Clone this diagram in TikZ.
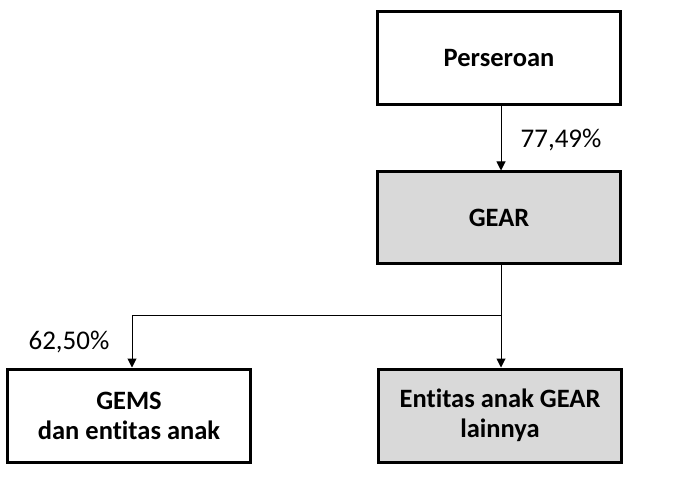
\documentclass[tikz,border=0pt]{standalone}
\usepackage{fontspec}
\setmainfont{Carlito}[Ligatures=NoCommon]
\usetikzlibrary{positioning,arrows.meta}
\definecolor{boxgrey}{RGB}{217,217,217}
\begin{document}
\begin{tikzpicture}[x=1pt,y=-1pt,
                    pct/.style={font=\fontsize{27}{30}\selectfont}]
            \useasboundingbox (0,0) rectangle (684,494);
            \begin{scope}[every node/.style={rectangle,draw=black,line width=3pt,minimum width=243pt,
                          align=center,font=\fontsize{26.5}{30}\selectfont\bfseries}]
                \node[minimum height=93pt] (P) at (499,58.5) {Perseroan};
                \node[minimum height=91pt,fill=boxgrey] (G) at (499,217.5) {GEAR};
                \node[minimum height=93pt] (S) at (129,415.5) {GEMS\\dan entitas anak};
                \node[minimum height=93pt,fill=boxgrey] (L) at (500,415.5) {Entitas anak GEAR\\lainnya};
            \end{scope}

            \node[pct] (pG) at (561,140) {77,49\%};
            \node[pct] (pS) at (69,342) {62,50\%};

            \coordinate (J) at (501,315);
            \begin{scope}[>={Triangle[black,length=9pt,width=9pt]},
                          every path/.style={draw=black,line width=1pt}]
                \draw [->] (P.south -| J) -- (G.north -| J);
                \draw (G.south -| J) -- (J);
                \draw [->] (J) -- (L.north -| J);
                \draw [->] (J) -| ([xshift=3pt]S.north);
            \end{scope}
        \end{tikzpicture}
\end{document}
